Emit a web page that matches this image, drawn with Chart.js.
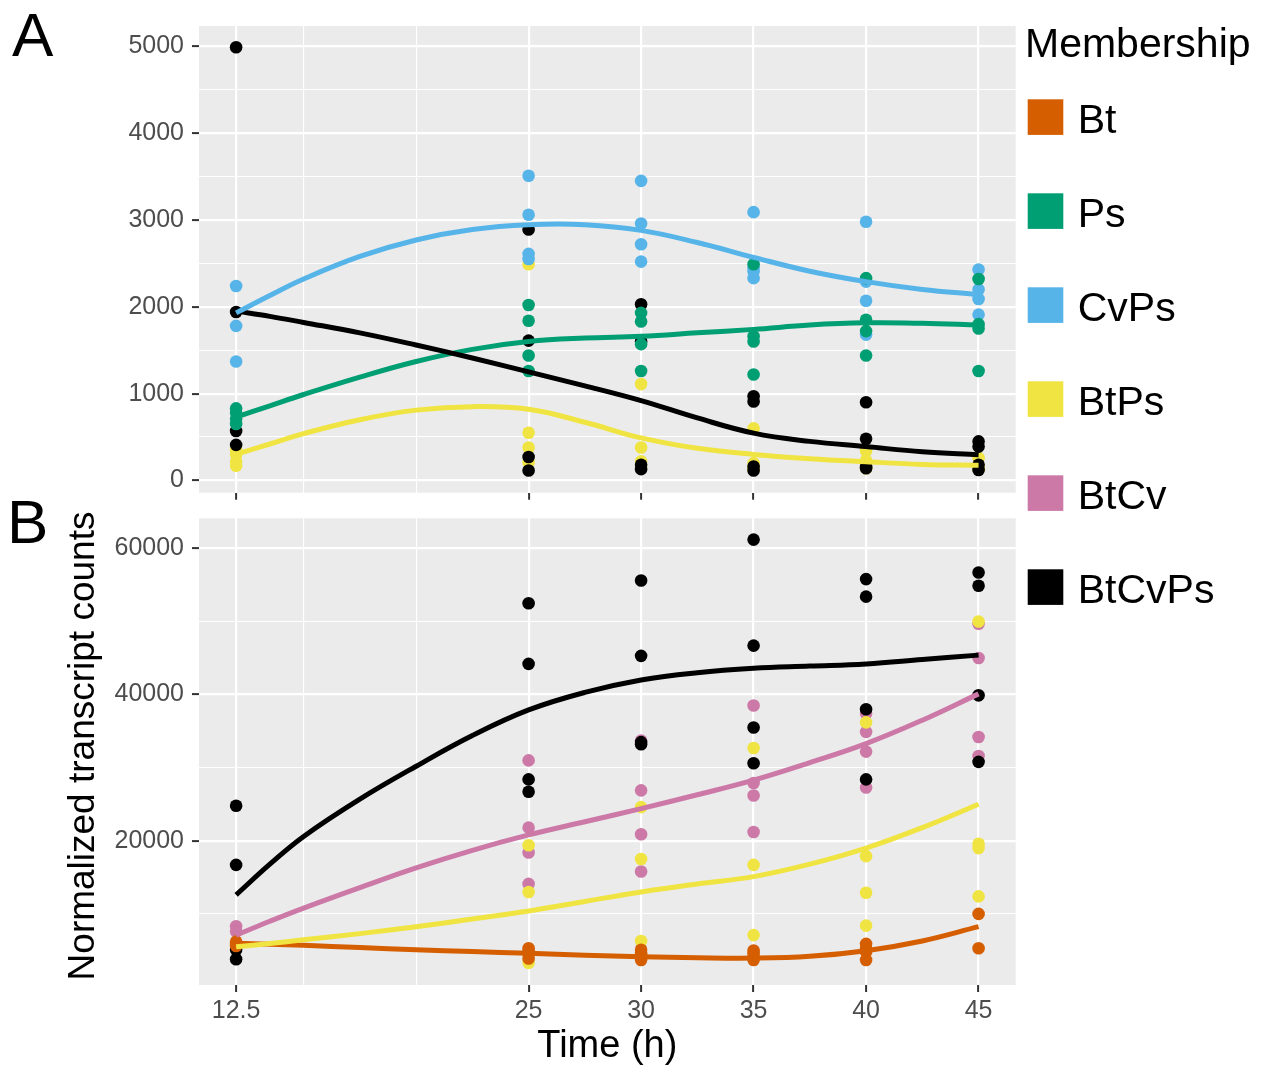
<!DOCTYPE html>
<html>
<head>
<meta charset="utf-8">
<title>Normalized transcript counts over time by membership</title>
<script src="https://cdn.jsdelivr.net/npm/chart.js@4.4.1/dist/chart.umd.min.js"></script>
<style>
  html, body { margin: 0; padding: 0; background: #ffffff; }
  #wrap { position: relative; width: 1271px; height: 1066px; }
  #wrap canvas { position: absolute; left: 0; top: 0; }
</style>
</head>
<body>
<div id="wrap">
  <canvas id="panelA" width="1271" height="1066"></canvas>
  <canvas id="panelB" width="1271" height="1066"></canvas>
</div>
<script>
// ---- sampling times and axis breaks ----
const sampleTimes = [12, 25, 30, 35, 40, 45];
const timeTickValues = [12, 25, 30, 35, 40, 45];
const timeTickLabels = ['12.5', '25', '30', '35', '40', '45'];
const timeMinorValues = [15, 20];

// ---- panel A: replicate counts per sampling time ----
const cvpsA = [[2240, 1780, 1370], [3510, 3060, 2610, 2550], [3450, 2960, 2720, 2520],
               [3090, 2450, 2410, 2330], [2980, 2290, 2070, 1680], [2430, 2200, 2090, 1910]];
const psA = [[830, 780, 710, 650], [2020, 1840, 1440, 1260], [1930, 1830, 1570, 1260],
             [2490, 1660, 1600, 1220], [2330, 1850, 1720, 1440], [2320, 1800, 1750, 1260]];
const btpsA = [[350, 300, 215, 170], [2490, 550, 380, 210], [1110, 380, 220, 160],
               [600, 200, 150, 130], [340, 230, 150, 140], [260, 170, 140, 130]];
const btcvpsA = [[4990, 1940, 570, 410], [2890, 1610, 270, 115], [2030, 1600, 180, 130],
                 [970, 910, 160, 115], [900, 480, 155, 140], [450, 390, 180, 120]];

// ---- panel B: replicate counts per sampling time ----
const btB = [[6200, 5900, 5600], [5300, 4900, 4600, 3900], [5100, 4700, 4400, 3700],
             [5000, 4600, 4150, 3700], [5900, 5200, 4800, 3700], [10000, 5300]];
const btpsB = [[5600], [19400, 13000, 3300], [24600, 17500, 6300],
               [32700, 16700, 7100], [36200, 17900, 12900, 8400], [50000, 19600, 19000, 12400]];
const btcvB = [[8300, 7600], [31000, 21800, 18400, 14100], [33700, 26900, 20900, 15800],
               [38500, 27900, 26200, 21200], [37400, 34900, 32200, 27300], [49700, 45000, 34200, 31600]];
const btcvpsB = [[24800, 16700, 5100, 3800], [52500, 44200, 28400, 26700], [55600, 45300, 33500, 33200],
                 [61200, 46700, 35500, 30600], [55800, 53400, 38000, 28400], [56700, 54900, 39900, 30800]];

// ---- smoothed trends (fitted values along time) ----
const smoothTimes = [12, 13.5, 15, 17.5, 20, 22.5, 25, 27.5, 30, 32.5, 35, 37.5, 40, 42.5, 45];
const cvpsFitA   = [1930, 2130, 2320, 2580, 2770, 2890, 2945, 2945, 2880, 2740, 2570, 2410, 2290, 2200, 2140];
const psFitA     = [730, 860, 990, 1190, 1370, 1510, 1600, 1640, 1660, 1700, 1740, 1790, 1815, 1810, 1790];
const btpsFitA   = [300, 420, 540, 700, 810, 850, 820, 670, 490, 370, 300, 250, 215, 185, 175];
const btcvpsFitA = [1950, 1890, 1820, 1700, 1560, 1410, 1250, 1090, 920, 720, 545, 450, 390, 330, 295];

const btFitB     = [6000, 5850, 5700, 5400, 5100, 4850, 4600, 4350, 4150, 4000, 3950, 4200, 4970, 6300, 8250];
const btpsFitB   = [5500, 5950, 6450, 7300, 8250, 9300, 10400, 11700, 13000, 14100, 15100, 16800, 19000, 21800, 25000];
const btcvFitB   = [7100, 9000, 10800, 13600, 16300, 18700, 20800, 22600, 24400, 26300, 28300, 30700, 33300, 36500, 40100];
const btcvpsFitB = [12600, 16800, 20600, 25700, 30200, 34400, 37900, 40300, 42000, 43000, 43600, 43900, 44200, 44800, 45400];

// ---- axis tick values ----
const yTicksA = [0, 500, 1000, 1500, 2000, 2500, 3000, 3500, 4000, 4500, 5000];
const yTicksB = [10000, 20000, 30000, 40000, 50000, 60000];

const membership = ['Bt', 'Ps', 'CvPs', 'BtPs', 'BtCv', 'BtCvPs'];
const COLORS = { Bt: '#D55E00', Ps: '#009E73', CvPs: '#56B4E9', BtPs: '#F0E442', BtCv: '#CC79A7', BtCvPs: '#000000' };

const FONT = "'Liberation Sans', Arial, Helvetica, sans-serif";
Chart.defaults.font.family = FONT;

const W = 1271, H = 1066;
const PLOT_LEFT = 199, PLOT_RIGHT = 1015.7;
const X_MIN = 10.35, X_MAX = 46.65;

function pointData(groups) {
  const out = [];
  groups.forEach((vals, i) => vals.forEach(v => out.push({ x: sampleTimes[i], y: v })));
  return out;
}
function fitData(vals) {
  return vals.map((v, i) => ({ x: smoothTimes[i], y: v }));
}
function pointSet(label, groups, order) {
  return {
    type: 'scatter', label, data: pointData(groups), order,
    backgroundColor: COLORS[label], borderColor: COLORS[label], borderWidth: 0,
    pointRadius: 6.3, pointHoverRadius: 6.3, showLine: false
  };
}
function fitSet(label, vals, order) {
  return {
    type: 'line', label, data: fitData(vals), order,
    borderColor: COLORS[label], backgroundColor: COLORS[label], borderWidth: 5,
    pointRadius: 0, pointHoverRadius: 0, showLine: true, fill: false,
    tension: 0.4, borderCapStyle: 'butt', borderJoinStyle: 'round'
  };
}

const isMajorX = v => timeTickValues.includes(v);

function xScale(showLabels, axisHeight, title) {
  return {
    type: 'linear', min: X_MIN, max: X_MAX,
    afterBuildTicks(s) { s.ticks = timeTickValues.concat(timeMinorValues).sort((a, b) => a - b).map(v => ({ value: v })); },
    afterFit(s) { s.height = axisHeight; },
    border: { display: false },
    grid: {
      color: '#FFFFFF',
      lineWidth: c => (c.tick && isMajorX(c.tick.value)) ? 2.2 : 1.1,
      drawTicks: true, tickLength: 7, tickWidth: 2,
      tickColor: c => (c.tick && isMajorX(c.tick.value)) ? '#333333' : 'rgba(0,0,0,0)'
    },
    ticks: {
      autoSkip: false, maxRotation: 0, minRotation: 0, padding: 4,
      color: '#4D4D4D', font: { size: 25 },
      callback: v => {
        if (!showLabels) return '';
        const i = timeTickValues.indexOf(v);
        return i >= 0 ? timeTickLabels[i] : '';
      }
    },
    title: title || { display: false }
  };
}

function yScale(min, max, tickVals, majorStep, title) {
  const isMajor = v => v % majorStep === 0;
  return {
    type: 'linear', min, max,
    afterBuildTicks(s) { s.ticks = tickVals.map(v => ({ value: v })); },
    afterFit(s) { s.width = PLOT_LEFT; },
    border: { display: false },
    grid: {
      color: '#FFFFFF',
      lineWidth: c => (c.tick && isMajor(c.tick.value)) ? 2.2 : 1.1,
      drawTicks: true, tickLength: 7, tickWidth: 2,
      tickColor: c => (c.tick && isMajor(c.tick.value)) ? '#333333' : 'rgba(0,0,0,0)'
    },
    ticks: {
      autoSkip: false, padding: 8, color: '#4D4D4D', font: { size: 25 },
      callback: v => isMajor(v) ? String(v) : ''
    },
    title: title || { display: false }
  };
}

// grey panel background
const panelBackground = {
  id: 'panelBackground',
  beforeDraw(chart) {
    const { ctx, chartArea: a } = chart;
    ctx.save();
    ctx.fillStyle = '#EBEBEB';
    ctx.fillRect(a.left, a.top, a.right - a.left, a.bottom - a.top);
    ctx.restore();
  }
};

// membership legend, shared y-axis title and panel letters
const membershipLegend = {
  id: 'membershipLegend',
  afterDraw(chart) {
    const ctx = chart.ctx;
    ctx.save();
    ctx.textAlign = 'left';
    ctx.textBaseline = 'alphabetic';
    ctx.fillStyle = '#000000';
    ctx.font = `41px ${FONT}`;
    ctx.fillText('Membership', 1025, 56.7);
    membership.forEach((name, i) => {
      const top = 99.3 + i * 94;
      ctx.fillStyle = COLORS[name];
      ctx.fillRect(1027.7, top, 35.6, 35.6);
      ctx.fillStyle = '#000000';
      ctx.fillText(name, 1077.7, top + 33.4);
    });
    ctx.font = `62px ${FONT}`;
    ctx.fillText('A', 12, 56);
    ctx.fillText('B', 7, 543);

    ctx.font = `37px ${FONT}`;
    ctx.textAlign = 'center';
    ctx.translate(94, 746);
    ctx.rotate(-Math.PI / 2);
    ctx.fillText('Normalized transcript counts', 0, 0);
    ctx.restore();
  }
};

const common = {
  responsive: false, animation: false, events: [],
  plugins: { legend: { display: false }, tooltip: { enabled: false } }
};

new Chart(document.getElementById('panelA'), {
  type: 'scatter',
  data: {
    datasets: [
      fitSet('CvPs', cvpsFitA, 0),
      fitSet('BtCvPs', btcvpsFitA, 1),
      fitSet('Ps', psFitA, 2),
      fitSet('BtPs', btpsFitA, 3),
      pointSet('Ps', psA, 10),
      pointSet('BtCvPs', btcvpsA, 11),
      pointSet('CvPs', cvpsA, 12),
      pointSet('BtPs', btpsA, 13)
    ]
  },
  options: Object.assign({}, common, {
    layout: { padding: { left: 0, top: 26, right: W - PLOT_RIGHT, bottom: 0 } },
    scales: {
      x: xScale(false, H - 492.7),
      y: yScale(-141, 5234, yTicksA, 1000)
    }
  }),
  plugins: [panelBackground]
});

new Chart(document.getElementById('panelB'), {
  type: 'scatter',
  data: {
    datasets: [
      fitSet('BtPs', btpsFitB, 0),
      fitSet('Bt', btFitB, 1),
      fitSet('BtCv', btcvFitB, 2),
      fitSet('BtCvPs', btcvpsFitB, 3),
      pointSet('Bt', btB, 10),
      pointSet('BtCvPs', btcvpsB, 11),
      pointSet('BtPs', btpsB, 12),
      pointSet('BtCv', btcvB, 13)
    ]
  },
  options: Object.assign({}, common, {
    layout: { padding: { left: 0, top: 518.3, right: W - PLOT_RIGHT, bottom: 0 } },
    scales: {
      x: xScale(true, H - 985, {
        display: true, text: 'Time (h)', color: '#000000',
        font: { size: 38, lineHeight: 1 }, padding: { top: 0, bottom: 0 }
      }),
      y: yScale(273, 64117, yTicksB, 20000)
    }
  }),
  plugins: [panelBackground, membershipLegend]
});
</script>
</body>
</html>
